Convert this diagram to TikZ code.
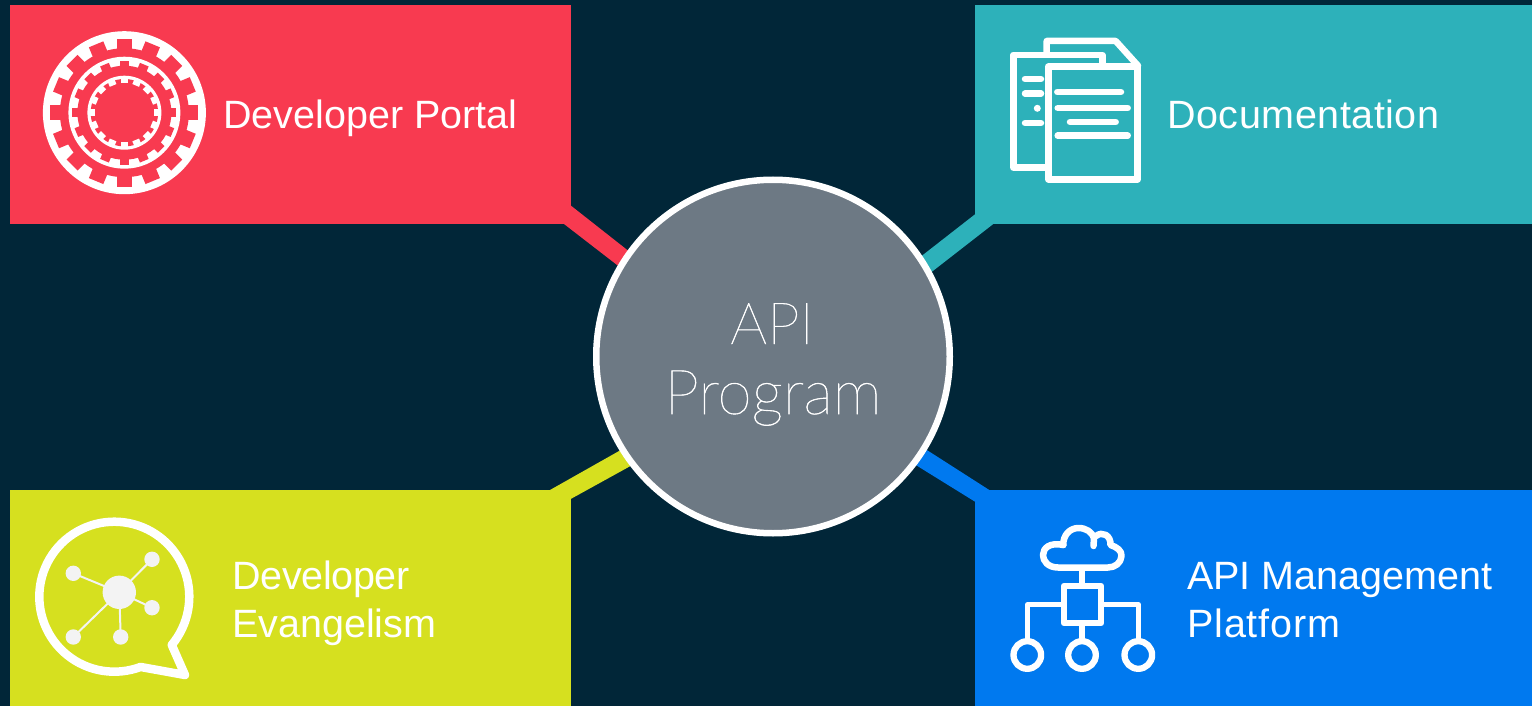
\documentclass[tikz,border=0pt]{standalone}
\usepackage{fontspec}
\setmainfont{Liberation Sans}
\newfontfamily\lightfont[FakeBold=0.8]{Lato Thin}
\definecolor{bgc}{HTML}{012638}
\definecolor{redc}{HTML}{F83A50}
\definecolor{tealc}{HTML}{2DB1BA}
\definecolor{limec}{HTML}{D6E01F}
\definecolor{bluec}{HTML}{0079EF}
\definecolor{hubc}{HTML}{6D7984}
\definecolor{softw}{HTML}{F3F3F3}
\tikzset{
  lab/.style={anchor=base west,text=white,inner sep=0pt,font=\fontsize{39.5}{39.5}\selectfont},
  ctr/.style={anchor=base,text=white,inner sep=0pt,font=\lightfont\fontsize{62}{62}\selectfont},
  ico/.style={draw=white,line width=6.5pt,line join=round,line cap=round},
  thin ico/.style={draw=white,line width=4.6pt,line join=round}
}
\begin{document}
\begin{tikzpicture}[x=1pt,y=-1pt]
\useasboundingbox (0,0) rectangle (1532,706);
\fill[bgc] (0,0) rectangle (1532,706);
% connectors
\fill[redc] (571,205.7) -- (640,260) -- (630,275) -- (564,224) -- cycle;
\fill[tealc] (975,214.3) -- (910,265) -- (920,281) -- (993.3,224) -- cycle;
\fill[limec] (550,490) -- (635,442) -- (645,458) -- (570.7,499) -- cycle;
\fill[bluec] (989.3,490) -- (912,440.5) -- (902,456.5) -- (975,501.7) -- cycle;
% boxes
\fill[redc] (10,5) rectangle (571,224);
\fill[tealc] (975,5) rectangle (1532,224);
\fill[limec] (10,490) rectangle (571,706);
\fill[bluec] (975,490) rectangle (1532,706);
% hub
\node[circle,draw=white,fill=hubc,line width=6.5pt,minimum size=353.5pt,inner sep=0pt] (hub) at (773,356.5) {};
\node[ctr,font=\lightfont\fontsize{58}{58}\selectfont] (api) at (772,344) {API};
\node[ctr] (prog) at (773,414) {Program};
% labels
\node[lab] (l1) at (223,129) {Developer Portal};
\node[lab] (l2) at (1167,129) {\addfontfeature{LetterSpace=1.4}Documentation};
\node[lab] (l3) at (232,589) {\addfontfeature{LetterSpace=-0.8}Developer};
\node[lab] (l3b) at (232,637) {Evangelism};
\node[lab] (l4) at (1187,589) {API Management};
\node[lab] (l4b) at (1187,637) {\addfontfeature{LetterSpace=2.2}Platform};
% gear icon
\def\cx{124.4}\def\cy{112.7}
\fill[white] (\cx,\cy) circle (81.5);
\fill[redc] (\cx,\cy) circle (64.5);
\foreach \i in {0,...,15}{
  \pgfmathsetmacro\a{\i*22.5}
  \fill[redc] ({\cx+60*cos(\a)-7.8*sin(\a)},{\cy+60*sin(\a)+7.8*cos(\a)})
    -- ({\cx+74*cos(\a)-7.8*sin(\a)},{\cy+74*sin(\a)+7.8*cos(\a)})
    -- ({\cx+74*cos(\a)+7.8*sin(\a)},{\cy+74*sin(\a)-7.8*cos(\a)})
    -- ({\cx+60*cos(\a)+7.8*sin(\a)},{\cy+60*sin(\a)-7.8*cos(\a)}) -- cycle;
}
\fill[white] (\cx,\cy) circle (56);
\fill[redc] (\cx,\cy) circle (47);
\foreach \i in {0,...,15}{
  \pgfmathsetmacro\a{\i*22.5}
  \fill[redc] ({\cx+44*cos(\a)-4.7*sin(\a)},{\cy+44*sin(\a)+4.7*cos(\a)})
    -- ({\cx+52*cos(\a)-4.7*sin(\a)},{\cy+52*sin(\a)+4.7*cos(\a)})
    -- ({\cx+52*cos(\a)+4.7*sin(\a)},{\cy+52*sin(\a)-4.7*cos(\a)})
    -- ({\cx+44*cos(\a)+4.7*sin(\a)},{\cy+44*sin(\a)-4.7*cos(\a)}) -- cycle;
}
\fill[white] (\cx,\cy) circle (37);
\fill[redc] (\cx,\cy) circle (33.7);
\foreach \i in {0,...,15}{
  \pgfmathsetmacro\a{\i*22.5}
  \fill[white] ({\cx+29.5*cos(\a)-3.6*sin(\a)},{\cy+29.5*sin(\a)+3.6*cos(\a)})
    -- ({\cx+34.5*cos(\a)-3.6*sin(\a)},{\cy+34.5*sin(\a)+3.6*cos(\a)})
    -- ({\cx+34.5*cos(\a)+3.6*sin(\a)},{\cy+34.5*sin(\a)-3.6*cos(\a)})
    -- ({\cx+29.5*cos(\a)+3.6*sin(\a)},{\cy+29.5*sin(\a)-3.6*cos(\a)}) -- cycle;
}
% document icon
\draw[ico] (1046.7,51.7) -- (1046.7,41) -- (1115.7,41) -- (1138,65.7);
\draw[ico] (1046.7,167.7) -- (1013.3,167.7) -- (1013.3,55) -- (1102.3,55) -- (1102.3,64.3);
\draw[ico] (1048.3,66.7) rectangle (1137.7,179.3);
\draw[ico] (1025,79) -- (1041,79);
\draw[ico] (1025,93.7) -- (1041,93.7);
\fill[white] (1037.3,108.3) circle (3.5);
\draw[ico] (1025,123) -- (1041,123);
\draw[ico] (1057.3,92) -- (1121,92);
\draw[ico] (1057.7,108) -- (1127.7,108);
\draw[ico] (1070,122) -- (1115.7,122);
\draw[ico] (1057.7,135.7) -- (1127.7,135.7);
% bubble icon
\draw[ico,line width=8.5pt] plot[domain=69.5:400,samples=90] ({114.3+75*cos(\x)},{596.7+75*sin(\x)}) -- (185,675) -- cycle;
\draw[softw,line width=2pt] (119.3,592.3) -- (152,559.3);
\draw[softw,line width=2pt] (119.3,592.3) -- (73.3,573.3);
\draw[softw,line width=2pt] (119.3,592.3) -- (152,607.7);
\draw[softw,line width=2pt] (119.3,592.3) -- (120.7,637);
\draw[softw,line width=2pt] (119.3,592.3) -- (73.3,637);
\fill[softw] (119.3,592.3) circle (16.7);
\fill[softw] (152,559.3) circle (7.7);
\fill[softw] (73.3,573.3) circle (7.7);
\fill[softw] (152,607.7) circle (7.7);
\fill[softw] (120.7,637) circle (7.7);
\fill[softw] (73.3,637) circle (7.7);
% cloud icon
\draw[ico] (1063.3,545) .. controls (1063,535) and (1070,528) .. (1078.5,528) .. controls (1086,528) and (1092,532) .. (1094,538) -- (1093.5,546);
\draw[ico] (1096,536) .. controls (1102,531) and (1111,535) .. (1110.5,545) .. controls (1117,547) and (1122,551) .. (1121.5,556) .. controls (1121,563) and (1115,567.5) .. (1108,567.5) -- (1058,567.5) .. controls (1048,567.5) and (1043,561) .. (1043,555) .. controls (1043,548) and (1050,542) .. (1063.3,545);
\draw[thin ico,line width=5.5pt] (1082,568) -- (1082,585);
\draw[ico,line width=6pt] (1064,585.7) rectangle (1101,623.3);
\draw[thin ico] (1062,604.3) -- (1027.7,604.3) -- (1027.7,642);
\draw[thin ico] (1103,604.3) -- (1138.3,604.3) -- (1138.3,642);
\draw[thin ico,line width=5.5pt] (1082,625) -- (1082,642);
\draw[ico,line width=6.3pt] (1027.3,655) circle (13.8);
\draw[ico,line width=6.3pt] (1082,655) circle (13.8);
\draw[ico,line width=6.3pt] (1138.3,655) circle (13.8);
\end{tikzpicture}
\end{document}
